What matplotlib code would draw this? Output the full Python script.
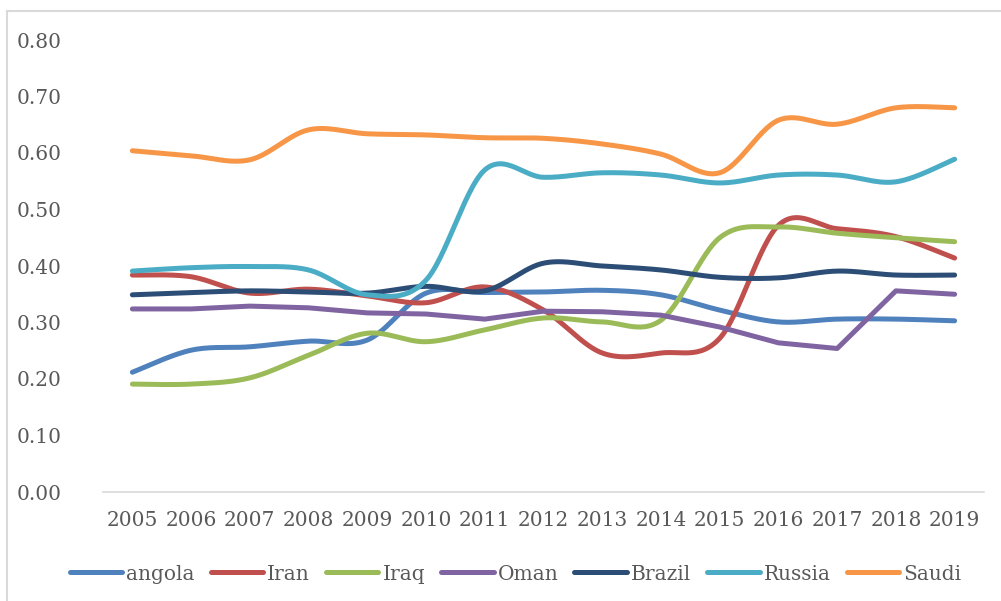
import matplotlib
matplotlib.use('Agg')
import matplotlib.pyplot as plt
from matplotlib.lines import Line2D
import numpy as np

years = ['2005', '2006', '2007', '2008', '2009', '2010', '2011', '2012',
         '2013', '2014', '2015', '2016', '2017', '2018', '2019']

angola = [0.212, 0.251, 0.257, 0.267, 0.269, 0.352, 0.353, 0.354, 0.357, 0.349, 0.322, 0.301, 0.306, 0.306, 0.303]
iran   = [0.384, 0.381, 0.352, 0.359, 0.347, 0.335, 0.363, 0.322, 0.246, 0.246, 0.272, 0.472, 0.466, 0.452, 0.414]
iraq   = [0.191, 0.191, 0.202, 0.242, 0.281, 0.266, 0.287, 0.308, 0.301, 0.304, 0.450, 0.469, 0.458, 0.450, 0.443]
oman   = [0.324, 0.324, 0.329, 0.326, 0.317, 0.315, 0.306, 0.320, 0.319, 0.313, 0.292, 0.264, 0.254, 0.356, 0.350]
brazil = [0.349, 0.353, 0.356, 0.354, 0.352, 0.364, 0.356, 0.405, 0.400, 0.393, 0.380, 0.379, 0.391, 0.384, 0.384]
russia = [0.391, 0.397, 0.399, 0.393, 0.349, 0.375, 0.570, 0.557, 0.565, 0.561, 0.547, 0.561, 0.561, 0.549, 0.589]
saudi  = [0.604, 0.595, 0.588, 0.641, 0.634, 0.632, 0.627, 0.626, 0.616, 0.598, 0.565, 0.658, 0.651, 0.680, 0.680]

names = ['angola', 'Iran', 'Iraq', 'Oman', 'Brazil', 'Russia', 'Saudi']
series = [angola, iran, iraq, oman, brazil, russia, saudi]
colors = ['#4F81BD', '#C0504D', '#9BBB59', '#8064A2', '#2C4D75', '#4BACC6', '#F79646']
smoothed = [True, True, True, False, True, True, True]


def smooth(y, n=30):
    # excel-style smoothed line (bezier through points, catmull-rom tangents)
    y = np.asarray(y, float)
    x = np.arange(len(y), dtype=float)
    xs, ys = [], []
    for i in range(len(y) - 1):
        x0, x3 = x[i], x[i + 1]
        y0, y3 = y[i], y[i + 1]
        ym = y[i - 1] if i > 0 else y0
        yp = y[i + 2] if i + 2 < len(y) else y3
        xm = x[i - 1] if i > 0 else x0
        xp = x[i + 2] if i + 2 < len(y) else x3
        x1 = x0 + (x3 - xm) / 6
        y1 = y0 + (y3 - ym) / 6
        x2 = x3 - (xp - x0) / 6
        y2 = y3 - (yp - y0) / 6
        t = np.linspace(0, 1, n)
        b0, b1, b2, b3 = (1 - t) ** 3, 3 * t * (1 - t) ** 2, 3 * t ** 2 * (1 - t), t ** 3
        xs.append(b0 * x0 + b1 * x1 + b2 * x2 + b3 * x3)
        ys.append(b0 * y0 + b1 * y1 + b2 * y2 + b3 * y3)
    return np.concatenate(xs), np.concatenate(ys)


font = 'DejaVu Serif'
txt = '#595959'

fig = plt.figure(figsize=(10.01, 6.01), dpi=100)
ax = fig.add_axes([103 / 1001, (601 - 492) / 601, 881 / 1001, 452 / 601])

for name, vals, c, sm in zip(names, series, colors, smoothed):
    if sm:
        sx, sy = smooth(vals)
    else:
        sx, sy = np.arange(len(vals)), vals
    ax.plot(sx, sy, color=c, lw=3.6, solid_capstyle='round', solid_joinstyle='round')

ax.set_xlim(-0.5, len(years) - 0.5)
ax.set_ylim(0, 0.8)
ax.set_xticks(range(len(years)))
ax.set_xticklabels(years, fontfamily=font, fontsize=14.5, color=txt)
ax.set_yticks(np.arange(0, 0.81, 0.1))
ax.set_yticklabels(['%.2f' % v for v in np.arange(0, 0.81, 0.1)], fontfamily=font, fontsize=14.5, color=txt)
ax.tick_params(axis='both', length=0)
ax.tick_params(axis='x', pad=14)
ax.tick_params(axis='y', pad=30)
for s in ['top', 'right', 'left']:
    ax.spines[s].set_visible(False)
ax.spines['bottom'].set_color('#d9d9d9')
ax.spines['bottom'].set_linewidth(1.2)

handles = [Line2D([], [], color=c, lw=3.6, solid_capstyle='round') for c in colors]
fig.legend(handles, names, loc='center', bbox_to_anchor=(0.515, (601 - 574) / 601), ncol=7,
           frameon=False, prop={'family': font, 'size': 14.5}, labelcolor=txt,
           handlelength=2.6, handletextpad=0.2, columnspacing=0.8)

# chart frame (left and top edges)
fig.add_artist(Line2D([7 / 1001, 7 / 1001], [0, 1 - 11 / 601], color='#d9d9d9', lw=1.5, transform=fig.transFigure))
fig.add_artist(Line2D([7 / 1001, 1], [1 - 11 / 601, 1 - 11 / 601], color='#d9d9d9', lw=1.5, transform=fig.transFigure))

fig.savefig('out.png', dpi=100, facecolor='white')
